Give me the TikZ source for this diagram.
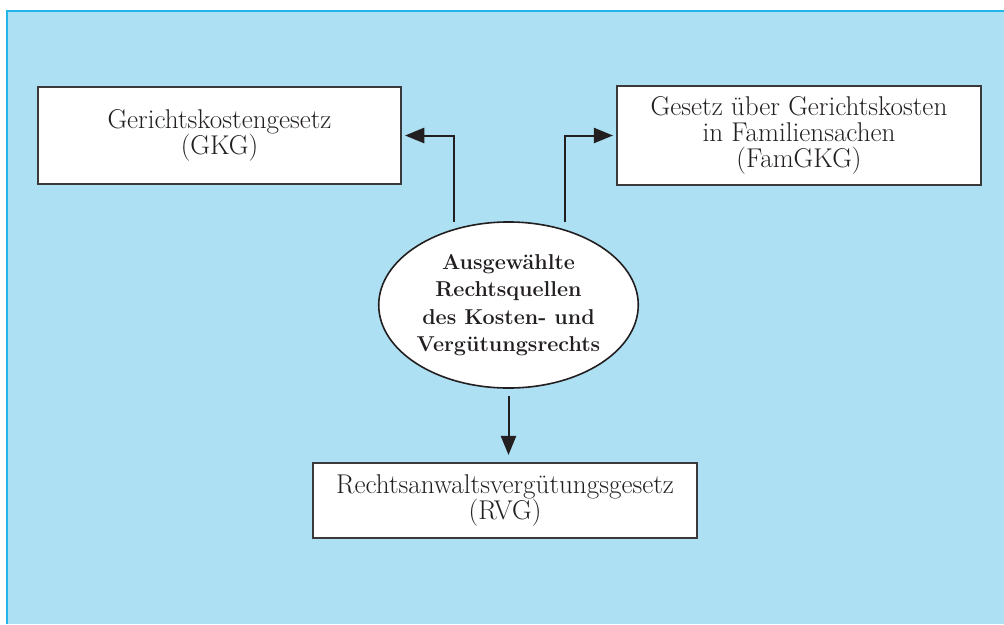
\documentclass[tikz,border=0pt]{standalone}
\usepackage{fontspec}
\usetikzlibrary{arrows.meta,shapes.geometric}
\definecolor{bgblue}{HTML}{ADE0F3}
\definecolor{frameblue}{HTML}{22B5E8}
\definecolor{boxline}{HTML}{3A3A3A}
\definecolor{ink}{HTML}{231F20}
\tikzset{
	lawbox/.style={draw=boxline, fill=white, line width=0.05cm, align=center, inner sep=0pt, text=ink, font=\fontsize{19.3}{18.6}\selectfont},
	arr/.style={draw=ink, line width=0.05cm, -{Triangle[length=0.48cm,width=0.38cm]}}
}
\begin{document}
\begin{tikzpicture}[x=0.025cm, y=-0.025cm]
	\useasboundingbox (0,0) rectangle (1004,624);
	\fill[bgblue] (7,11) rectangle (1004,624);
	\draw[frameblue, line width=0.045cm] (7,624) -- (7,11) -- (1004,11);
	
	\node[lawbox, minimum width=9.075cm, minimum height=2.425cm] (gkg) at (219.5,135.5) {Gerichtskostengesetz\\(GKG)};
	\node[lawbox, minimum width=9.1cm, minimum height=2.475cm] (famgkg) at (799,135.5) {Gesetz über Gerichtskosten\\in Familiensachen\\(FamGKG)};
	\node[lawbox, minimum width=9.6cm, minimum height=1.875cm] (rvg) at (505,500.5) {Rechtsanwaltsvergütungsgesetz\\(RVG)};
	\node[ellipse, draw=ink, fill=white, line width=0.04cm, minimum width=6.275cm, minimum height=4.15cm, inner sep=0pt, align=center, text=ink, font=\bfseries\fontsize{15.3}{19.4}\selectfont] (ell) at (508.5,305) {Ausgewählte\\Rechtsquellen\\des Kosten- und\\Vergütungsrechts};
	
	\coordinate (lfoot) at (454,222);
	\coordinate (rfoot) at (565,222);
	
	\draw[arr, shorten >=0.075cm] (lfoot) |- (gkg.east);
	\draw[arr, shorten >=0.075cm] (rfoot) |- (famgkg.west);
	\draw[arr, shorten <=0.175cm, shorten >=0.175cm] (ell.south) -- (ell.south |- rvg.north);
\end{tikzpicture}
\end{document}
